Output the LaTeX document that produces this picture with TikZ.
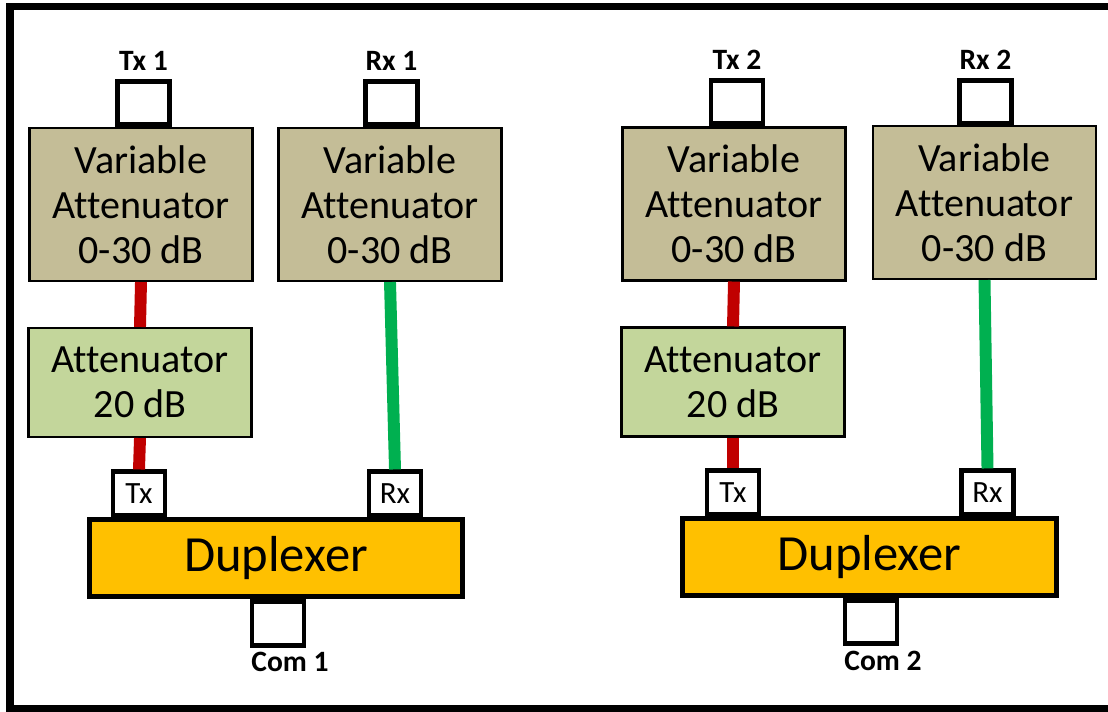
\documentclass[tikz,border=0pt]{standalone}
\usepackage{fontspec}
\setmainfont{Carlito}[Ligatures=NoCommon]
\usetikzlibrary{positioning}
\definecolor{vatan}{HTML}{C4BD97}
\definecolor{attgreen}{HTML}{C3D69B}
\definecolor{duporange}{HTML}{FFC000}
\definecolor{txred}{HTML}{C00000}
\definecolor{rxgreen}{HTML}{00B050}
\tikzset{varatt/.style = {draw, fill=vatan, line width=1.6pt, inner sep=0pt,
                          minimum width=5.57cm, minimum height=3.82cm, align=center,
                          font=\fontsize{28.5}{32}\selectfont},
         fixatt/.style = {varatt, fill=attgreen, minimum height=2.72cm},
         duplex/.style = {draw, fill=duporange, line width=3.5pt, inner sep=0pt,
                          minimum width=9.33cm, minimum height=1.93cm,
                          font=\fontsize{36}{40}\selectfont},
         port/.style = {draw, fill=white, line width=3.5pt, inner sep=0pt,
                        minimum width=1.3cm, minimum height=1.08cm,
                        font=\fontsize{22}{24}\selectfont},
         plabel/.style = {font=\bfseries\fontsize{21}{24}\selectfont},
         txline/.style = {txred, line width=8.5pt},
         rxline/.style = {rxgreen, line width=8.5pt}}

\begin{document}
\begin{tikzpicture}[x=0.025cm, y=-0.025cm]
      \useasboundingbox (0, 0) rectangle (1108, 711);
      \draw [line width=5pt] (1108, 6.5) -- (10, 6.5) -- (10, 709) -- (1108, 709);

      % chain 1
      \node [varatt] (va1) at (141, 204.5) {Variable\\Attenuator\\0-30 dB};
      \node [varatt] (vr1) at (390, 204.5) {Variable\\Attenuator\\0-30 dB};
      \node [fixatt] (fa1) at (140, 382.5) {Attenuator\\20 dB};
      \node [duplex] (dup1) at (276, 558) {Duplexer};

      \node [port] (tx1) at (143.5, 103) {};
      \node [port] (rx1) at (391.5, 103) {};
      \node [port] (dt1) at (139, 493.5) {Tx};
      \node [port] (dr1) at (395, 493.5) {Rx};
      \node [port] (com1) at (278, 623.5) {};

      \node [plabel, above=0.08cm of tx1] {Tx 1};
      \node [plabel, above=0.08cm of rx1] {Rx 1};
      \node [plabel, below=0cm of com1, xshift=0.3cm] {Com 1};

      \draw [txline] (va1.south) -- (fa1.north);
      \draw [txline] (fa1.south) -- (dt1.north);
      \draw [rxline] (vr1.south) -- (dr1.north);

      % chain 2
      \node [varatt] (va2) at (734, 204) {Variable\\Attenuator\\0-30 dB};
      \node [varatt] (vr2) at (984.5, 202.5) {Variable\\Attenuator\\0-30 dB};
      \node [fixatt] (fa2) at (733, 382) {Attenuator\\20 dB};
      \node [duplex] (dup2) at (869.5, 557) {Duplexer};

      \node [port] (tx2) at (737, 102) {};
      \node [port] (rx2) at (985.5, 102) {};
      \node [port] (dt2) at (733, 492.5) {Tx};
      \node [port] (dr2) at (987.5, 492.5) {Rx};
      \node [port] (com2) at (871, 622) {};

      \node [plabel, above=0.08cm of tx2] {Tx 2};
      \node [plabel, above=0.08cm of rx2] {Rx 2};
      \node [plabel, below=0cm of com2, xshift=0.3cm] {Com 2};

      \draw [txline] (va2.south) -- (fa2.north);
      \draw [txline] (fa2.south) -- (dt2.north);
      \draw [rxline] (vr2.south) -- (dr2.north);

    \end{tikzpicture}
\end{document}
